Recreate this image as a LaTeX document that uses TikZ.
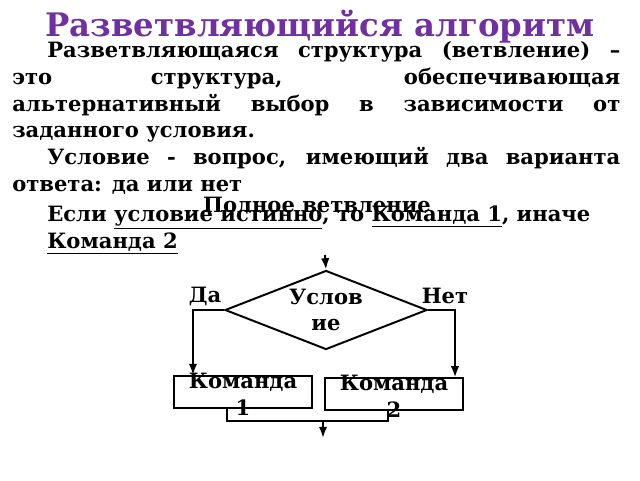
\documentclass[tikz,border=0pt]{standalone}
\usepackage{fontspec}
\setmainfont{DejaVu Serif}
\usetikzlibrary{shapes.geometric,arrows.meta}
\definecolor{viola}{RGB}{112,48,160}

\begin{document}
\begin{tikzpicture}[
		linea/.style={line width=1.4pt},
		freccia/.style={line width=1.4pt, -{Latex[length=8pt,width=6pt]}},
		blocco/.style={draw, rectangle, line width=1.4pt, minimum width=3.45cm, minimum height=0.8cm, inner sep=0pt},
		testo/.style={font=\bfseries\fontsize{15}{19}\selectfont, inner sep=0pt}
	]
		\useasboundingbox (0,0) rectangle (16,-12);
		
		%Titolo e testo
		\node (titolo) at (8,-0.9) [anchor=base, inner sep=0pt, text=viola, font=\bfseries\fontsize{23}{27}\selectfont]{Разветвляющийся алгоритм};
		
		\node (definizione) at (0.3,-1.44) [testo, anchor=base west, text width=15.2cm, align=justify]{\hspace*{0.875cm}Разветвляющаяся структура (ветвление) –\linebreak это структура, обеспечивающая\linebreak альтернативный выбор в зависимости от\linebreak заданного условия.};
		
		\node (domanda) at (0.3,-4.11) [testo, anchor=base west, text width=15.2cm, align=justify]{\hspace*{0.875cm}Условие - вопрос, имеющий два варианта\linebreak ответа: да или нет};
		
		\node (sottotitolo) at (7.925,-5.32) [testo, anchor=base]{Полное ветвление};
		
		\node (regola) at (1.175,-6.2) [testo, anchor=base west, align=left]{Если \underline{условие истинно}, то \underline{Команда 1}, иначе\\ \underline{Команда 2}};
		
		%Disegno i nodi dello schema
		\node (rombo) at (8.15,-7.75) [draw, diamond, aspect=2.56, line width=1.4pt, minimum width=5.05cm, minimum height=1.975cm, inner sep=0pt, align=center, font=\bfseries\fontsize{15}{19}\selectfont]{Услов\\ие};
		
		\node (comando1) at (6.075,-9.8) [blocco]{};
		\node (testo1) at ([yshift=-0.05cm]comando1.center) [testo, align=center]{Команда\\1};
		
		\node (comando2) at (9.85,-9.86) [blocco]{};
		\node (testo2) at ([yshift=-0.05cm]comando2.center) [testo, align=center]{Команда\\2};
		
		\node (si) at (5.125,-7.4) [testo]{Да};
		\node (no) at (11.125,-7.4) [testo]{Нет};
		
		%Disegno i collegamenti
		\coordinate (ingresso) at (8.125,-6.375);
		\coordinate (sinistra) at (4.825,-7.75);
		\coordinate (destra) at (11.375,-7.75);
		\coordinate (fine1) at (5.675,-9.8);
		\coordinate (fine2) at (9.7,-9.86);
		\coordinate (unione) at (8.075,-10.525);
		\coordinate (uscita) at (8.075,-10.95);
		
		\draw[freccia] (ingresso) -- (rombo.north);
		
		\draw[freccia] (rombo.west) -- (sinistra) -- (sinistra |- comando1.north);
		
		\draw[freccia] (rombo.east) -- (destra) -- (destra |- comando2.north);
		
		\draw[linea] (fine1 |- comando1.south) -- (fine1 |- unione) -- (fine2 |- unione) -- (fine2 |- comando2.south);
		
		\draw[freccia] (unione) -- (uscita);
		
\end{tikzpicture}
\end{document}
